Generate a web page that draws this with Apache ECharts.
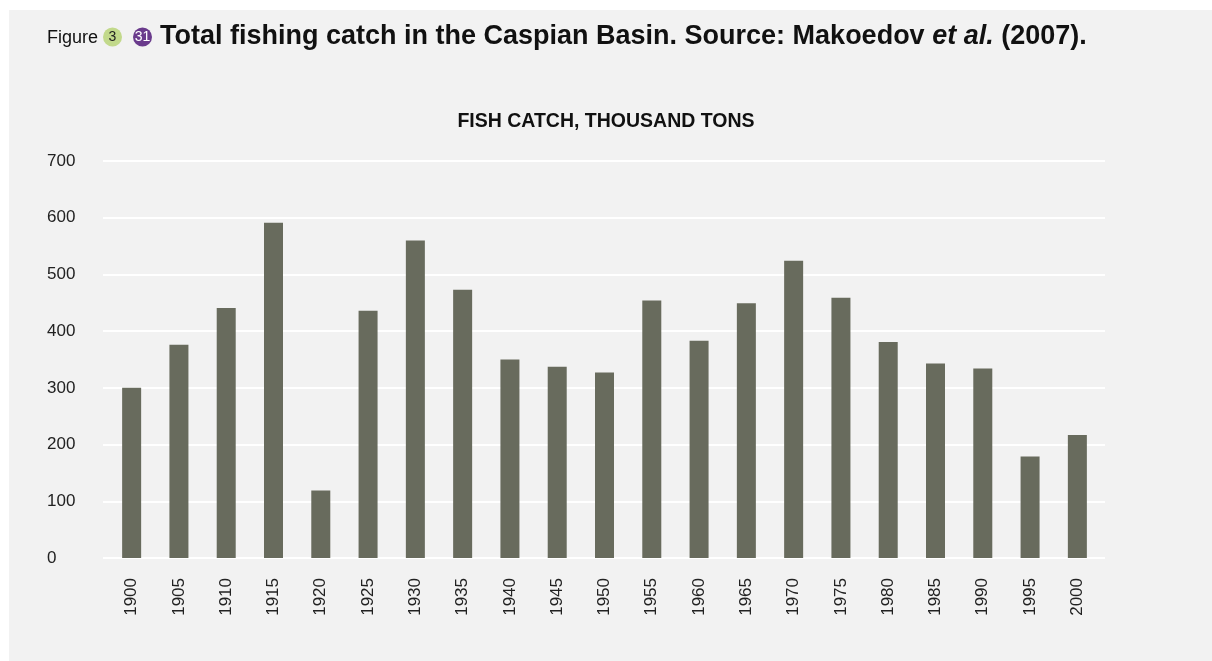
<!DOCTYPE html>
<html><head><meta charset="utf-8">
<script src="https://cdn.jsdelivr.net/npm/echarts@6/dist/echarts.min.js"></script>
<style>html,body{margin:0;padding:0;background:#fff}#c{width:1212px;height:661px}</style>
</head><body><div id="c"></div>
<script>
const years = ['1900','1905','1910','1915','1920','1925','1930','1935','1940','1945','1950','1955','1960','1965','1970','1975','1980','1985','1990','1995','2000'];
const catch_kt = [300,376,441,591,119,436,560,473,350,337,327,454,383,449,524,459,381,343,334,179,217];
const yTicks = [0,100,200,300,400,500,600,700];

const chart = echarts.init(document.getElementById('c'));
const F = '"Liberation Sans", Arial, Helvetica, sans-serif';
const TY = 37;
chart.setOption({
  animation:false,
  textStyle:{fontFamily:F},
  graphic:[
    {type:'rect',left:9,top:10,shape:{width:1203,height:651},style:{fill:'#f2f2f2'},z:-10},
    {type:'text',x:98,y:TY+1,style:{text:'Figure',font:'normal 18px '+F,fill:'#111',textAlign:'right',textVerticalAlign:'middle'}},
    {type:'circle',shape:{cx:112.5,cy:TY,r:9.5},style:{fill:'#c2d98b'}},
    {type:'text',x:112.5,y:TY,style:{text:'3',font:'normal 14px '+F,fill:'#222',textAlign:'center',textVerticalAlign:'middle'},z:5},
    {type:'circle',shape:{cx:142.5,cy:TY,r:9.5},style:{fill:'#6a3b8c'}},
    {type:'text',x:142.5,y:TY,style:{text:'31',font:'normal 14px '+F,fill:'#fff',textAlign:'center',textVerticalAlign:'middle'},z:5},
    {type:'text',x:160,y:TY,style:{
      text:'{b|Total fishing catch in the Caspian Basin. Source: Makoedov }{i|et al.}{b| (2007).}',
      textVerticalAlign:'middle',
      rich:{
        b:{fontFamily:F,fontSize:27,fontWeight:'bold',fill:'#111',color:'#111'},
        i:{fontFamily:F,fontSize:27,fontWeight:'bold',fontStyle:'italic',fill:'#111',color:'#111'}
      }}}
  ],
  title:[{
    left:'center', top:107,
    text:'FISH CATCH, THOUSAND TONS',
    textStyle:{fontFamily:F,fontSize:19.5,fontWeight:'bold',color:'#111'}
  }],
  grid:[
    {left:103,right:107,top:161,bottom:103},
    {left:108,right:111,top:161,bottom:103}
  ],
  xAxis:[
    {gridIndex:0,type:'category',data:years,show:false},
    {gridIndex:1,type:'category',data:years,
     axisLine:{show:false},axisTick:{show:false},
     axisLabel:{rotate:90,margin:20,fontSize:17,color:'#222',fontFamily:F,interval:0}}
  ],
  yAxis:[
    {gridIndex:0,type:'value',min:0,max:700,interval:100,
     axisLine:{show:false},axisTick:{show:false},
     splitLine:{lineStyle:{color:'#ffffff',width:2}},
     axisLabel:{align:'left',margin:56,fontSize:17,color:'#222',fontFamily:F,
       formatter:v=>yTicks.includes(v)?String(v):''}},
    {gridIndex:1,type:'value',min:0,max:700,interval:100,show:false,splitLine:{show:false}}
  ],
  series:[{
    type:'bar',xAxisIndex:1,yAxisIndex:1,data:catch_kt,barWidth:19,
    itemStyle:{color:'#686b5d'}
  }]
});
</script></body></html>
